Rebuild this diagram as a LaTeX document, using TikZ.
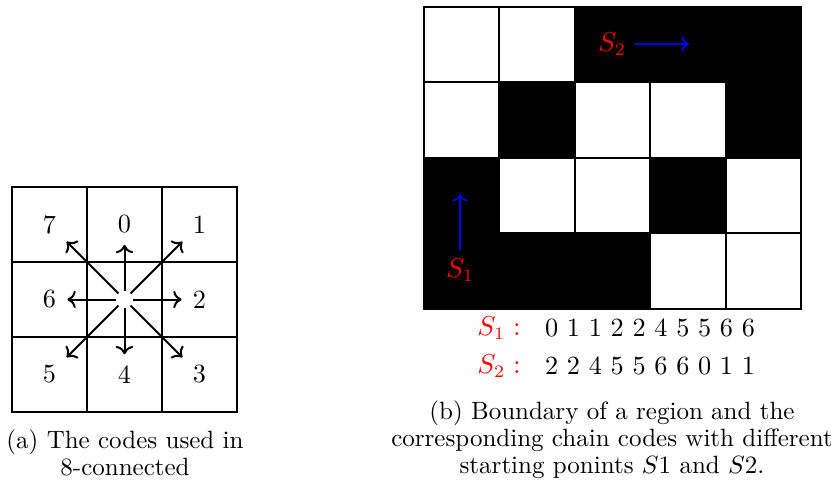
\documentclass[tikz,border=0pt]{standalone}
\usetikzlibrary{arrows.meta,positioning}
\begin{document}
\begin{tikzpicture}[x=0.4pt,y=-0.4pt,
  cell/.style={draw,thick,minimum size=30.1pt,inner sep=0pt,outer sep=0pt},
  code/.style={font=\fontsize{10.5}{12}\selectfont},
  caption/.style={align=center,font=\fontsize{10}{10.8}\selectfont}]
\useasboundingbox (0,0) rectangle (831,488);
% (a) the eight directions
\foreach \i in {0,1,2}
  \foreach \j in {0,1,2}
    \node[cell] (a\i\j) at ({49.5+75*\i},{224.5+75*\j}) {};
\node[code] (d0) at (124.5,224.5) {0};
\node[code] (d1) at (199.5,224.5) {1};
\node[code] (d2) at (199.5,299.5) {2};
\node[code] (d3) at (199.5,374.5) {3};
\node[code] (d4) at (124.5,374.5) {4};
\node[code] (d5) at (49.5,374.5) {5};
\node[code] (d6) at (49.5,299.5) {6};
\node[code] (d7) at (49.5,224.5) {7};
\coordinate (c) at (124.5,299.5);
\foreach \k in {0,...,7}
  \draw[->,thick,shorten <=3.4pt,shorten >=1pt] (c) -- (d\k);
\node[caption] (capa) at (125,453) {(a) The codes used in\\8-connected};
% (b) the region
\foreach \c/\r/\f in {0/0/white,1/0/white,2/0/black,3/0/black,4/0/black,
                      0/1/white,1/1/black,2/1/white,3/1/white,4/1/black,
                      0/2/black,1/2/white,2/2/white,3/2/black,4/2/white,
                      0/3/black,1/3/black,2/3/black,3/3/white,4/3/white}
  \node[cell,fill=\f,minimum size=30.16pt] (b\r\c) at ({461.7+75.4*\c},{44.7+75.4*\r}) {};
\node[code,red] (s2) at (612,44) {$S_2$};
\coordinate (t2) at (689,44);
\draw[->,blue,semithick] (s2) -- (t2);
\node[code,red] (s1) at (460,270) {$S_1$};
\coordinate (t1) at (460,194);
\draw[->,blue,semithick] (s1) -- (t1);
\node[code,red] (l1) at (499,328) {$S_1:$};
\node[code] (k1) at (650,328) {0 1 1 2 2 4 5 5 6 6};
\node[code,red] (l2) at (499,366) {$S_2:$};
\node[code] (k2) at (650,366) {2 2 4 5 5 6 6 0 1 1};
\node[caption] (capb) at (612,440) {(b) Boundary of a region and the\\corresponding chain codes with different\\starting ponints $S1$ and $S2$.};
\end{tikzpicture}
\end{document}
